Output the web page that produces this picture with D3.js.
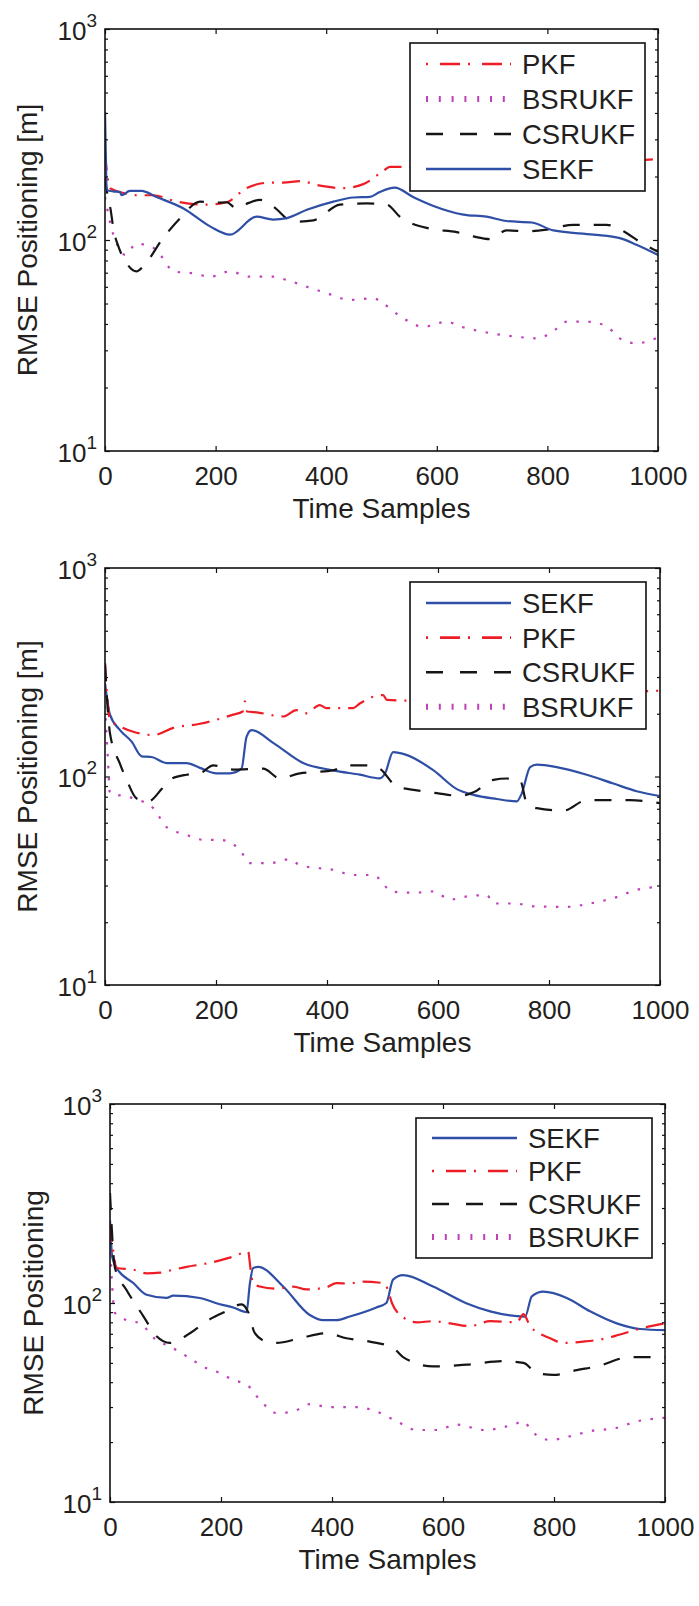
<!DOCTYPE html>
<html><head><meta charset="utf-8">
<script src="https://cdn.jsdelivr.net/npm/d3@7"></script>
<style>body{margin:0;background:#fff}svg{display:block}</style>
</head><body><svg id="c" width="699" height="1606"></svg>
<script>
// ---------- data ----------
const xTicks = [0, 200, 400, 600, 800, 1000];
const yMajor = [10, 100, 1000];
const yMinor = [20,30,40,50,60,70,80,90,200,300,400,500,600,700,800,900];
const xLabel = "Time Samples";

// Panel 1
const p1SEKF = [[0,405],[4,172],[15,170],[27,169],[30,163],[45,171],[66,171],[93,160],[142,141],[190,116],[226,106],[274,129],[304,125],[329,127],[365,139],[413,152],[449,159],[479,160],[497,169],[524,177],[557,160],[594,145],[648,132],[690,129],[726,123],[772,121],[811,111],[883,106],[931,102],[961,95],[1000,85]];
const p1PKF = [[0,260],[5,195],[9,176],[30,168],[58,163],[87,163],[130,152],[184,147],[220,151],[256,176],[298,187],[322,187],[353,190],[389,181],[431,176],[467,184],[503,212],[515,222],[545,222],[600,215],[700,212],[800,222],[900,232],[1000,242]];
const p1CSRUKF = [[0,200],[5,160],[10,140],[15,114],[25,92],[36,80],[57,71],[69,75],[105,102],[136,127],[172,152],[196,150],[220,151],[238,141],[260,150],[280,155],[304,144],[341,122],[377,124],[425,147],[473,149],[510,147],[533,129],[588,113],[636,109],[666,104],[696,101],[726,111],[763,110],[799,112],[847,118],[907,118],[943,108],[967,98],[1000,88]];
const p1BSRUKF = [[0,160],[8,125],[15,106],[25,92],[36,85],[57,96],[84,93],[100,85],[124,71],[160,69.5],[190,67],[226,71],[262,67],[304,67],[329,64.6],[365,60],[401,56],[443,52],[485,53],[503,50],[539,42.6],[576,38.8],[618,41],[642,39],[702,36],[744,34.8],[781,34.2],[817,38],[835,41],[871,41],[907,39],[931,34.2],[961,32.4],[1000,34.5]];

// Panel 2
const p2SEKF = [[0,280],[9,198],[27,167],[48,147],[66,125],[84,124],[111,116],[147,116],[171,110],[201,103.6],[225,103.6],[246,109],[255,155],[264,167],[303,145],[357,116],[411,107],[459,102],[495,98],[505,104],[519,131],[543,127],[592,107],[634,87],[664,81.6],[706,78],[742,76],[751,83],[766,111],[778,114],[814,111],[868,102],[916,92.5],[958,85],[1000,80.6]];
const p2PKF = [[0,350],[4,240],[9,187],[27,174],[51,164],[87,158],[123,171],[171,179],[231,198],[248,205],[252,229],[256,205],[273,203],[321,194],[345,208],[363,201],[387,220],[399,213],[447,213],[459,224],[501,246],[508,233],[545,231],[600,238],[700,243],[800,248],[900,253],[1000,258]];
const p2CSRUKF = [[0,345],[9,161],[27,115],[39,96.4],[57,78.5],[78,76],[102,87],[117,96.7],[147,102],[171,103.6],[195,113],[231,108],[285,109],[315,98],[351,103.6],[375,105],[411,107],[435,113],[477,113],[495,109],[526,89.4],[556,86.3],[598,83.2],[640,80.7],[664,84],[700,96.4],[724,97.8],[748,95.7],[760,74.5],[778,70.5],[826,68.6],[868,77],[904,77],[946,77],[1000,74.5]];
const p2BSRUKF = [[0,218],[5,125],[9,83],[33,80.7],[51,78.5],[87,70.5],[111,57.2],[147,52.5],[177,49.7],[207,49.7],[243,44.5],[261,38.4],[297,38.4],[333,40.1],[351,37.6],[387,36.3],[411,35.7],[447,33.7],[483,33.7],[501,30.8],[514,28.1],[556,27.7],[592,28.1],[622,25.7],[652,26.6],[688,27],[700,24.6],[736,24.6],[778,23.8],[832,23.7],[874,24.6],[916,26.1],[958,28.6],[1000,29.6]];

// Panel 3
const p3SEKF = [[0,260],[4,170],[12,150],[42,126],[66,110],[102,106],[114,109],[162,106],[198,98.5],[222,95],[246,90],[252,125],[258,150],[267,152],[312,121],[360,87],[384,82],[408,82],[432,85.5],[480,95],[498,100],[510,131],[528,138],[582,121],[643,99.5],[685,90.8],[748,85.5],[760,108],[781,114],[823,106],[865,90.8],[913,79],[955,74],[1000,73]];
const p3PKF = [[0,250],[5,190],[12,150],[42,147],[66,141],[90,142],[114,147],[138,152],[174,158],[222,171],[249,181],[253,150],[258,125],[270,121],[300,118],[330,121],[354,117],[390,120],[408,126],[432,125],[450,128],[492,126],[500,118],[508,100],[523,87],[553,80],[582,81],[613,79],[649,76.5],[685,81],[733,80],[745,88],[757,76.5],[793,66.5],[817,63],[853,64],[889,66],[919,69.5],[961,75],[1000,79]];
const p3CSRUKF = [[0,357],[9,150],[30,116],[60,86],[84,68],[108,63],[144,70.5],[174,81],[210,91],[237,98.5],[249,90],[261,70.5],[282,64],[300,63],[342,66.5],[390,70.5],[426,66.5],[468,64],[510,59.5],[528,53.5],[582,48],[643,49],[709,51],[745,50],[769,44.5],[799,43.5],[841,46],[877,48],[937,53.5],[1000,53.5]];
const p3BSRUKF = [[0,207],[4,120],[9,89],[30,82],[54,79],[84,65],[108,60.5],[138,54],[174,47],[198,44.5],[222,41],[246,39],[270,32.6],[300,28],[330,28.5],[360,31],[396,30],[444,30],[480,28.5],[517,25.4],[553,23],[589,23],[625,24.5],[673,23],[727,24.5],[745,25.4],[760,22.7],[793,20.5],[829,21.4],[865,22.7],[913,23.6],[949,25.4],[1000,26.5]];

const legend1 = ["PKF", "BSRUKF", "CSRUKF", "SEKF"];
const legend2 = ["SEKF", "PKF", "CSRUKF", "BSRUKF"];
const legend3 = ["SEKF", "PKF", "CSRUKF", "BSRUKF"];

// ---------- styles / layout ----------
const FONT = "'Liberation Sans', Arial, Helvetica, sans-serif";
const TXT = "#231f20";
const styles = {
  SEKF:   {color:"#2f4fa6", dash:null,        width:2.2, lw:2.4, ldash:null},
  PKF:    {color:"#ee1c25", dash:"18,8,2,8",  width:2.2, lw:2.6, ldash:"2,12,20,8", loff:0},
  CSRUKF: {color:"#151515", dash:"17,14",     width:2.2, lw:2.6, ldash:"17,17"},
  BSRUKF: {color:"#c040b8", dash:"2.5,9.5",   width:2.2, lw:6,   ldash:"2,10.8"}
};

const panels = [
  {left:105, right:658, top:29,   bottom:451,  ylabel:"RMSE Positioning [m]", ylx:37,
   legend:{x:410, y:43,   w:235, h:148, row0:64,   step:35},  order:legend1,
   data:{SEKF:p1SEKF, PKF:p1PKF, CSRUKF:p1CSRUKF, BSRUKF:p1BSRUKF}},
  {left:105, right:660, top:568,  bottom:985,  ylabel:"RMSE Positioning [m]", ylx:37,
   legend:{x:410, y:582,  w:236, h:147, row0:603,  step:34.6}, order:legend2,
   data:{SEKF:p2SEKF, PKF:p2PKF, CSRUKF:p2CSRUKF, BSRUKF:p2BSRUKF}},
  {left:110, right:665, top:1104, bottom:1502, ylabel:"RMSE Positioning", ylx:43,
   legend:{x:416, y:1118, w:236, h:140, row0:1138, step:33},  order:legend3,
   data:{SEKF:p3SEKF, PKF:p3PKF, CSRUKF:p3CSRUKF, BSRUKF:p3BSRUKF}}
];

const svg = d3.select("#c");
svg.append("rect").attr("width",699).attr("height",1606).attr("fill","#fff");

panels.forEach((p, i) => {
  const x = d3.scaleLinear().domain([0,1000]).range([p.left, p.right]);
  const y = d3.scaleLog().domain([10,1000]).range([p.bottom, p.top]);
  const g = svg.append("g");

  const clipId = "clip" + i;
  svg.append("clipPath").attr("id", clipId).append("rect")
    .attr("x", p.left).attr("y", p.top).attr("width", p.right - p.left).attr("height", p.bottom - p.top);

  // series
  const line = d3.line().x(d => x(d[0])).y(d => y(d[1])).curve(d3.curveMonotoneX);
  const lg = g.append("g").attr("clip-path", `url(#${clipId})`);
  p.order.forEach(name => {
    const s = styles[name];
    lg.append("path").datum(p.data[name])
      .attr("d", line).attr("fill","none")
      .attr("stroke", s.color).attr("stroke-width", s.width)
      .attr("stroke-linejoin","round")
      .attr("stroke-dasharray", s.dash);
  });

  // axes
  const styleAxis = sel => {
    sel.select(".domain").remove();
    sel.selectAll(".tick line").attr("stroke","#111").attr("stroke-width",1.2);
  };
  g.append("g").attr("transform",`translate(0,${p.bottom})`)
    .call(d3.axisBottom(x).tickValues(xTicks).tickSizeInner(-5).tickSizeOuter(0).tickFormat(d3.format("d")))
    .call(styleAxis)
    .call(a => a.selectAll("text").attr("y",34).attr("dy",0)
      .attr("font-family",FONT).attr("font-size",26).attr("fill",TXT));
  g.append("g").attr("transform",`translate(0,${p.top})`)
    .call(d3.axisTop(x).tickValues(xTicks).tickSizeInner(-5).tickSizeOuter(0).tickFormat(""))
    .call(styleAxis);
  g.append("g").attr("transform",`translate(${p.left},0)`)
    .call(d3.axisLeft(y).tickValues(yMajor).tickSizeInner(-5).tickSizeOuter(0).tickFormat(() => "10"))
    .call(styleAxis)
    .call(a => a.selectAll("text").attr("x",-8).attr("y",10).attr("dy",0)
      .attr("text-anchor","end")
      .attr("font-family",FONT).attr("font-size",26).attr("fill",TXT)
      .each(function(d){
        d3.select(this).append("tspan").attr("dy",-13).attr("font-size",19)
          .text(Math.round(Math.log10(d)));
      }));
  g.append("g").attr("transform",`translate(${p.left},0)`)
    .call(d3.axisLeft(y).tickValues(yMinor).tickSizeInner(-3).tickSizeOuter(0).tickFormat(""))
    .call(styleAxis);
  g.append("g").attr("transform",`translate(${p.right},0)`)
    .call(d3.axisRight(y).tickValues(yMajor).tickSizeInner(-5).tickSizeOuter(0).tickFormat(""))
    .call(styleAxis);
  g.append("g").attr("transform",`translate(${p.right},0)`)
    .call(d3.axisRight(y).tickValues(yMinor).tickSizeInner(-3).tickSizeOuter(0).tickFormat(""))
    .call(styleAxis);

  // frame
  g.append("rect").attr("x",p.left).attr("y",p.top)
    .attr("width",p.right-p.left).attr("height",p.bottom-p.top)
    .attr("fill","none").attr("stroke","#111").attr("stroke-width",1.6);

  // labels
  g.append("text").attr("x",(p.left+p.right)/2).attr("y",p.bottom+67)
    .attr("text-anchor","middle").attr("font-family",FONT).attr("font-size",28).attr("fill",TXT)
    .text(xLabel);
  g.append("text").attr("transform",`translate(${p.ylx},${(p.top+p.bottom)/2}) rotate(-90)`)
    .attr("text-anchor","middle").attr("font-family",FONT).attr("font-size",28).attr("fill",TXT)
    .text(p.ylabel);

  // legend
  const L = p.legend;
  const lgd = g.append("g");
  lgd.append("rect").attr("x",L.x).attr("y",L.y).attr("width",L.w).attr("height",L.h)
    .attr("fill","#fff").attr("stroke","#111").attr("stroke-width",1.6);
  p.order.forEach((name, k) => {
    const s = styles[name];
    const yy = L.row0 + k*L.step;
    lgd.append("line").attr("x1",L.x+16).attr("x2",L.x+101).attr("y1",yy).attr("y2",yy)
      .attr("stroke",s.color).attr("stroke-width",s.lw)
      .attr("stroke-dasharray",s.ldash);
    lgd.append("text").attr("x",L.x+112).attr("y",yy+10)
      .attr("font-family",FONT).attr("font-size",27.5).attr("fill",TXT).text(name);
  });
});
</script>
</body></html>
